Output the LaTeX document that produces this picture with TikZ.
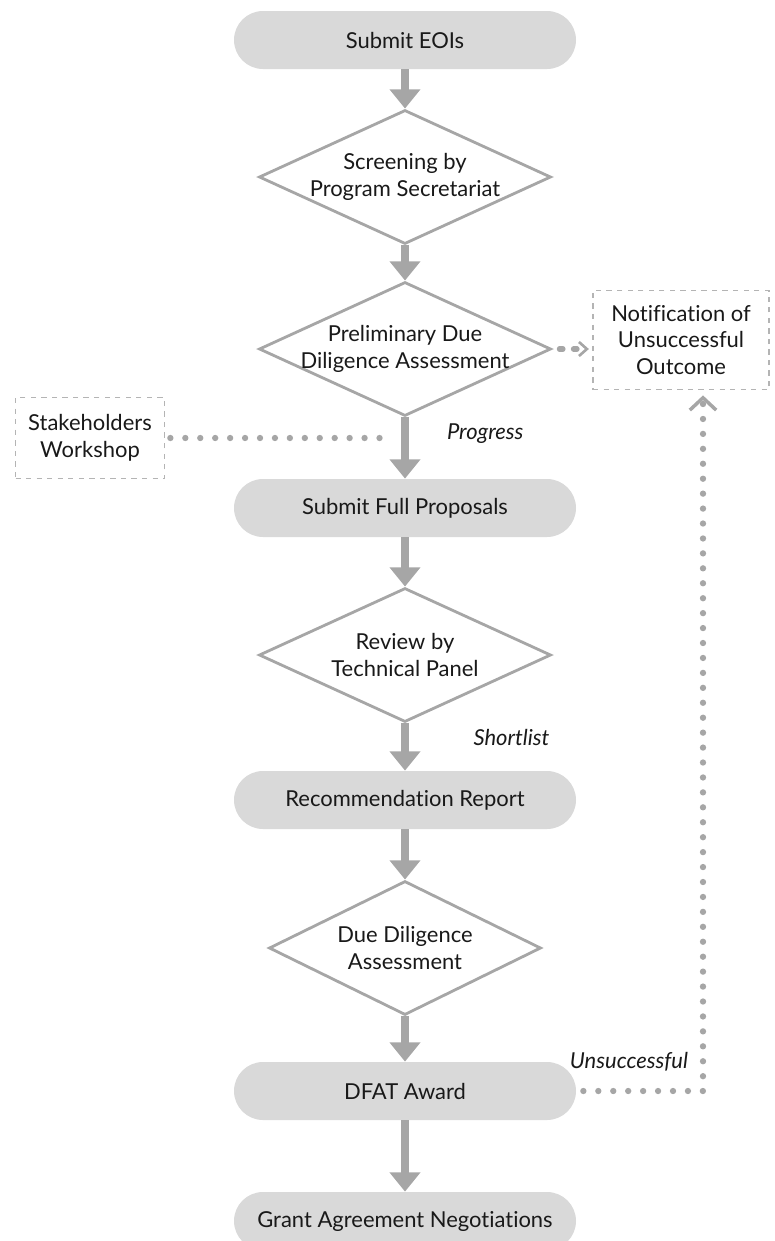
\documentclass[tikz,border=0pt]{standalone}
\usepackage{fontspec}
\setmainfont{Lato}[Ligatures=NoCommon]
\usepackage{tikz}
\usetikzlibrary{shapes,arrows,arrows.meta}
\usetikzlibrary{positioning}
\definecolor{pillgray}{HTML}{D9D9D9}
\definecolor{flowgray}{HTML}{A6A6A6}
\definecolor{boxgray}{HTML}{B4B4B4}
\tikzstyle{stage} = [rectangle, fill=pillgray, rounded corners=0.58cm,
    minimum width=6.84cm, minimum height=1.16cm, text centered]
\tikzstyle{decision} = [diamond, draw=flowgray, line width=1.6pt,
    minimum width=5.84cm, minimum height=2.68cm, inner sep=0pt]
\tikzstyle{note} = [rectangle, draw=boxgray, dashed, line width=0.7pt, align=center]
\tikzstyle{line} = [draw=flowgray, line width=4.2pt, -{Triangle[width=17pt,length=11pt]}]
\tikzstyle{dotline} = [draw=flowgray, line width=3.6pt, line cap=round, dash pattern=on 0pt off 8.5pt]
\tikzstyle{dashline} = [draw=flowgray, line width=3pt, line cap=round, dash pattern=on 2pt off 6pt]

\begin{document}
\begin{tikzpicture}[every node/.style={font=\fontsize{12.5}{15.3}\selectfont, text=black!90}]
\useasboundingbox (0,0) rectangle (15.5,-24.82);

% main column
\node [stage] (eoi) at (8.1,-0.8) {Submit EOIs};
\node [decision, below of=eoi, node distance=2.74cm,
    label={[align=center]center:Screening by\\Program Secretariat}] (screen) {};
\node [decision, below of=screen, node distance=3.44cm,
    label={[align=center]center:Preliminary Due\\Diligence Assessment}] (prelim) {};
\node [stage, below of=prelim, node distance=3.18cm] (fullprop) {Submit Full Proposals};
\node [decision, below of=fullprop, node distance=2.94cm,
    label={[align=center]center:Review by\\Technical Panel}] (review) {};
\node [stage, below of=review, node distance=2.9cm] (recommend) {Recommendation Report};
\node [decision, below of=recommend, node distance=2.96cm, minimum width=5.44cm,
    label={[align=center]center:Due Diligence\\Assessment}] (duediligence) {};
\node [stage, below of=duediligence, node distance=2.86cm] (award) {DFAT Award};
\node [stage, below of=award, node distance=2.6cm] (grant) {Grant Agreement Negotiations};

% side boxes
\node [note, right of=prelim, node distance=5.52cm, yshift=0.18cm,
    minimum width=3.52cm, minimum height=1.98cm] (notif) {Notification of\\Unsuccessful\\Outcome};
\node [note, left of=fullprop, node distance=6.3cm, yshift=1.4cm,
    minimum width=2.98cm, minimum height=1.62cm] (stake) {Stakeholders\\Workshop};

\draw[line] (eoi) -- (screen);
\draw[line] (screen) -- (prelim);
\draw[line] (prelim) -- node[pos=.27,right=0.65cm,font=\fontsize{12.5}{15.3}\selectfont\itshape] {Progress} (fullprop);
\draw[line] (fullprop) -- (review);
\draw[line] (review) -- node[pos=.3,right=1.18cm,font=\fontsize{12.5}{15.3}\selectfont\itshape] {Shortlist} (recommend);
\draw[line] (recommend) -- (duediligence);
\draw[line] (duediligence) -- (award);
\draw[line] (award) -- (grant);

\draw[dashline, -{Straight Barb[length=4.5pt,width=8pt,line width=1.5pt]}, shorten <=4pt, shorten >=2pt]
    (prelim.east) -- (prelim.east -| notif.west);
\draw[dotline, shorten <=3pt, shorten >=8pt] (stake.east) -- (stake.east -| prelim.south);

%\draw[dotline] (award.east) -- (notif.south);
\draw[dotline, -{Straight Barb[length=7pt,width=15pt,line width=2pt]}, shorten <=4pt, shorten >=3pt]
    (award.east) -| node[pos=.5,anchor=south east,xshift=-0.12cm,yshift=0.22cm,font=\fontsize{12.5}{15.3}\selectfont\itshape] {Unsuccessful}
    ([xshift=0.44cm]notif.south);

\end{tikzpicture}
\end{document}
